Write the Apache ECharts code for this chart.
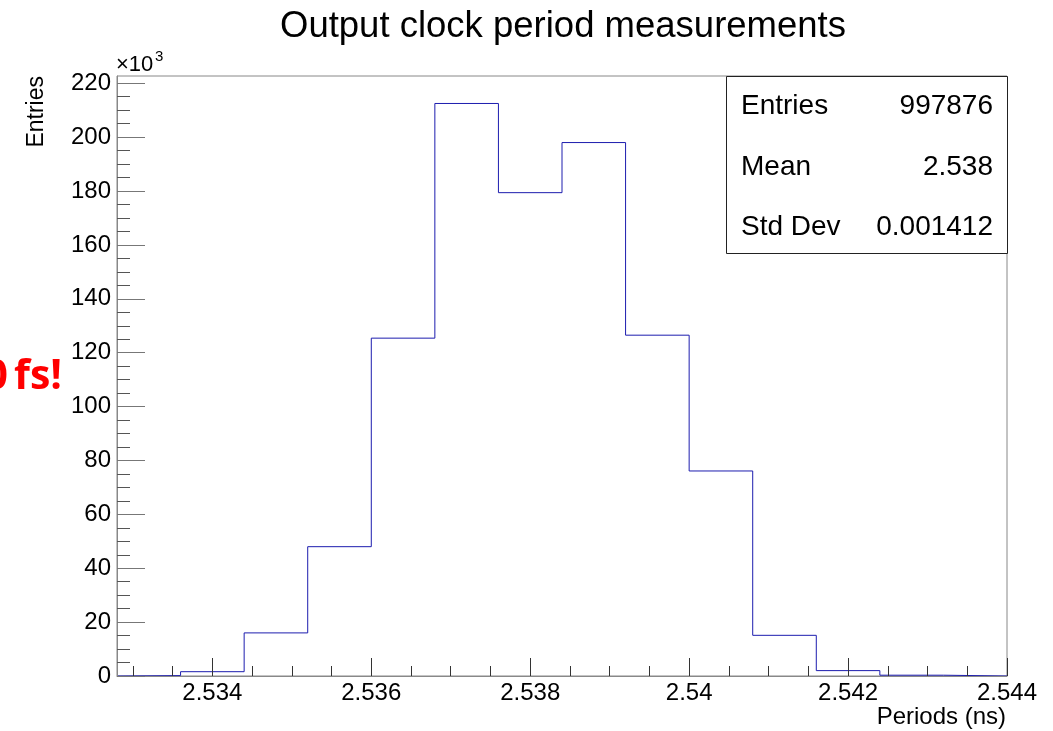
<!DOCTYPE html>
<html><head><meta charset="utf-8">
<script src="https://cdn.jsdelivr.net/npm/echarts@6/dist/echarts.min.js"></script>
<style>html,body{margin:0;padding:0;background:#fff}#c{width:1053px;height:731px}</style>
</head><body><div id="c"></div>
<script>
// Histogram bin edges (ns) and bin contents (x10^3 entries)
const binEdges = [2.5328, 2.5336, 2.5344, 2.5352, 2.5360, 2.5368, 2.5376, 2.5384, 2.5392, 2.5400, 2.5408, 2.5416, 2.5424, 2.5432, 2.5440];
const counts = [0.15, 1.6, 16.0, 48.0, 125.4, 212.5, 179.4, 198.0, 126.5, 76.1, 15.1, 2.0, 0.3, 0];
// Axis ticks
const xMajorTicks = [2.534, 2.536, 2.538, 2.540, 2.542, 2.544];
const xMinorTicks = [2.533, 2.5335, 2.5345, 2.535, 2.5355, 2.5365, 2.537, 2.5375, 2.5385, 2.539, 2.5395, 2.5405, 2.541, 2.5415, 2.5425, 2.543, 2.5435];
const yMajorTicks = [0, 20, 40, 60, 80, 100, 120, 140, 160, 180, 200, 220];
const yMinorTicks = [5, 10, 15, 25, 30, 35, 45, 50, 55, 65, 70, 75, 85, 90, 95, 105, 110, 115, 125, 130, 135, 145, 150, 155, 165, 170, 175, 185, 190, 195, 205, 210, 215];
// Stats box
const statsLabels = ['Entries', 'Mean', 'Std Dev'];
const statsValues = ['997876', '2.538', '0.001412'];

const FONT = 'Liberation Sans';
const X_MIN = 2.5328, X_MAX = 2.544, Y_MIN = 0, Y_MAX = 222.7;

const pts = [[binEdges[0], 0]];
for (let i = 0; i < counts.length; i++) {
  pts.push([binEdges[i], counts[i]]);
  pts.push([binEdges[i + 1], counts[i]]);
}
pts.push([binEdges[binEdges.length - 1], 0]);

const chart = echarts.init(document.getElementById('c'), null, {renderer: 'canvas'});

const statsGraphics = [];
const rowY = [106, 167, 227];
statsLabels.forEach((l, i) => {
  statsGraphics.push({type: 'text', x: 741, y: rowY[i], z: 20,
    style: {text: l, font: '28px "' + FONT + '"', fill: '#000', align: 'left', verticalAlign: 'middle'}});
  statsGraphics.push({type: 'text', x: 993, y: rowY[i], z: 20,
    style: {text: statsValues[i], font: '28px "' + FONT + '"', fill: '#000', align: 'right', verticalAlign: 'middle'}});
});

chart.setOption({
  animation: false,
  backgroundColor: '#fff',
  grid: {left: 117, top: 76, right: 46, bottom: 55, show: true, borderColor: '#888', borderWidth: 1, backgroundColor: 'transparent'},
  xAxis: [
    {type: 'value', min: X_MIN, max: X_MAX, position: 'bottom', show: false},
    {type: 'value', min: X_MIN, max: X_MAX, position: 'bottom', z: 3,
      axisLine: {show: true, lineStyle: {color: '#888', width: 1}},
      axisTick: {show: true, inside: true, length: 18, customValues: xMajorTicks, lineStyle: {color: '#333'}},
      axisLabel: {show: true, customValues: xMajorTicks, margin: 5, fontFamily: FONT, fontSize: 24, color: '#000',
        formatter: v => String(+v.toFixed(3))},
      splitLine: {show: false}},
    {type: 'value', min: X_MIN, max: X_MAX, position: 'bottom', z: 3,
      axisLine: {show: false},
      axisTick: {show: true, inside: true, length: 10, customValues: xMinorTicks, lineStyle: {color: '#333'}},
      axisLabel: {show: false},
      splitLine: {show: false}}
  ],
  yAxis: [
    {type: 'value', min: Y_MIN, max: Y_MAX, position: 'left', z: 3,
      axisLine: {show: true, lineStyle: {color: '#888', width: 1}},
      axisTick: {show: true, inside: true, length: 28, customValues: yMajorTicks, lineStyle: {color: '#777'}},
      axisLabel: {show: true, customValues: yMajorTicks, margin: 6, fontFamily: FONT, fontSize: 24, color: '#000'},
      splitLine: {show: false}},
    {type: 'value', min: Y_MIN, max: Y_MAX, position: 'left', z: 3,
      axisLine: {show: false},
      axisTick: {show: true, inside: true, length: 13, customValues: yMinorTicks, lineStyle: {color: '#555'}},
      axisLabel: {show: false},
      splitLine: {show: false}}
  ],
  series: [{
    type: 'line', xAxisIndex: 0, yAxisIndex: 0, data: pts, showSymbol: false, symbol: 'none',
    lineStyle: {color: '#1c1cae', width: 1}, z: 2
  }],
  graphic: [
    {type: 'text', x: 563, y: 27, style: {text: 'Output clock period measurements', font: '36.5px "' + FONT + '"', fill: '#000', align: 'center', verticalAlign: 'middle'}},
    {type: 'text', x: 1006, y: 717, style: {text: 'Periods (ns)', font: '24px "' + FONT + '"', fill: '#000', align: 'right', verticalAlign: 'middle'}},
    {type: 'text', x: 37, y: 76, rotation: Math.PI / 2, style: {text: 'Entries', font: '23px "' + FONT + '"', fill: '#000', align: 'right', verticalAlign: 'middle'}},
    {type: 'text', x: 116, y: 65, style: {text: '\u00d710', font: '22px "' + FONT + '"', fill: '#000', align: 'left', verticalAlign: 'middle'}},
    {type: 'text', x: 155, y: 57, style: {text: '3', font: '15px "' + FONT + '"', fill: '#000', align: 'left', verticalAlign: 'middle'}},
    {type: 'rect', shape: {x: 726.5, y: 76.5, width: 281, height: 177}, z: 10, style: {fill: '#fff', stroke: '#222', lineWidth: 1}},
    ...statsGraphics,
    {type: 'text', x: 8, y: 377, style: {text: '0', font: 'bold 41px "Open Sans"', fill: '#ff0000', align: 'right', verticalAlign: 'middle'}},
    {type: 'text', x: 14, y: 377, style: {text: 'fs!', font: 'bold 41px "Open Sans"', fill: '#ff0000', align: 'left', verticalAlign: 'middle'}}
  ]
});
</script>
</body></html>
